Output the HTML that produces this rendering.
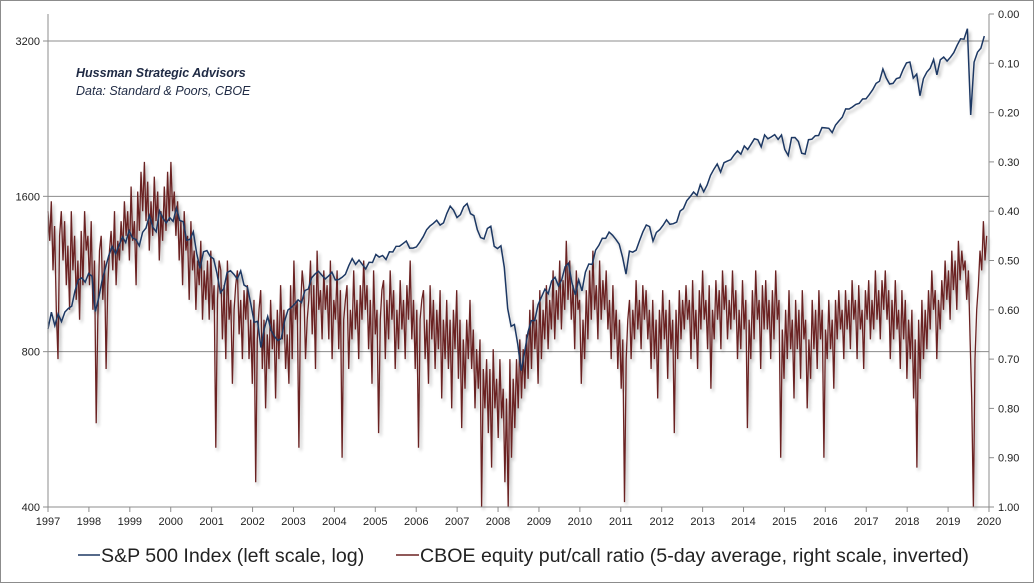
<!DOCTYPE html>
<html><head><meta charset="utf-8"><style>
html,body{margin:0;padding:0;background:#fff;}
#wrap{position:relative;width:1034px;height:583px;overflow:hidden;}
svg text{font-family:"Liberation Sans",sans-serif;}
</style></head><body>
<div id="wrap">
<svg id="chart" width="1034" height="583">
<defs><filter id="sh" x="-5%" y="-5%" width="110%" height="120%"><feGaussianBlur in="SourceAlpha" stdDeviation="1.5"/><feOffset dx="2" dy="3"/><feComponentTransfer><feFuncA type="linear" slope="0.3"/></feComponentTransfer><feMerge><feMergeNode/><feMergeNode in="SourceGraphic"/></feMerge></filter></defs>
<rect x="0.5" y="0.5" width="1033" height="582" fill="#fff" stroke="#8c8c8c"/>
<g id="grid"></g><g id="series"></g><g id="axes"></g>
<text x="76" y="77" font-size="12.5" font-style="italic" font-weight="bold" fill="#1f2a44">Hussman Strategic Advisors</text>
<text x="76" y="95" font-size="12.5" font-style="italic" fill="#1f2a44">Data: Standard &amp; Poors, CBOE</text>
<g>
<line x1="78" y1="555" x2="100" y2="555" stroke="#1f3864" stroke-width="1.5"/>
<text x="101" y="562" font-size="19.6" fill="#222">S&amp;P 500 Index (left scale, log)</text>
<line x1="396" y1="555" x2="419" y2="555" stroke="#6b2222" stroke-width="1.5"/>
<text x="420" y="562" font-size="19.6" fill="#222">CBOE equity put/call ratio (5-day average, right scale, inverted)</text>
</g>
</svg></div>
<script>
const xLabels=[1997,1998,1999,2000,2001,2002,2003,2004,2005,2006,2007,2008,2009,2010,2011,2012,2013,2014,2015,2016,2017,2018,2019,2020];
const leftTicks=[400,800,1600,3200];
const rightTicks=["0.00","0.10","0.20","0.30","0.40","0.50","0.60","0.70","0.80","0.90","1.00"];
const sp500=[885,954,899,947,915,955,970,
980,1049,1102,1112,1091,1134,1121,957,1017,1099,1164,1229,
1280,1238,1286,1335,1302,1373,1329,1320,1283,1363,1389,1469,
1394,1366,1499,1452,1421,1455,1431,1518,1437,1429,1315,1320,
1366,1240,1160,1249,1256,1224,1211,1134,1041,1060,1139,1148,
1130,1107,1147,1077,1067,990,912,916,815,886,936,880,
856,841,848,917,964,975,990,1008,996,1051,1058,1112,
1131,1145,1126,1107,1121,1141,1102,1104,1115,1130,1174,1212,
1181,1204,1181,1157,1192,1191,1234,1220,1229,1207,1249,1248,
1280,1281,1295,1311,1270,1270,1277,1304,1336,1378,1401,1418,
1438,1407,1421,1482,1531,1503,1455,1474,1527,1549,1481,1468,
1379,1331,1323,1386,1400,1280,1267,1283,1165,969,896,903,
826,735,798,873,919,919,987,1021,1057,1036,1096,1115,
1074,1104,1169,1187,1089,1031,1102,1049,1141,1183,1181,1258,
1286,1327,1326,1364,1345,1321,1292,1219,1131,1253,1247,1258,
1312,1366,1408,1398,1310,1362,1379,1407,1441,1412,1416,1426,
1498,1515,1569,1598,1631,1606,1686,1633,1682,1757,1806,1848,
1783,1859,1872,1884,1924,1960,1931,2003,1972,2018,2068,2059,
1995,2105,2068,2086,2107,2063,2104,1972,1920,2079,2080,2044,
1940,1932,2060,2065,2097,2099,2174,2171,2168,2126,2199,2239,
2279,2364,2363,2384,2412,2423,2470,2472,2519,2575,2648,2674,
2824,2714,2641,2648,2705,2718,2816,2902,2914,2712,2760,2507,
2704,2784,2834,2946,2752,2942,2980,2926,2977,3038,3141,3231,
3226,3380,2300,2912,3044,3100,3271];
const putCall=[
0.40,0.46,0.38,0.52,0.43,0.60,0.70,0.45,0.40,0.50,0.42,0.55,0.47,0.60,0.40,0.52,0.45,0.58,0.50,0.62,0.44,0.55,0.40,0.48,
0.45,0.55,0.42,0.60,0.50,0.83,0.62,0.48,0.45,0.58,0.50,0.72,0.55,0.48,0.44,0.52,0.40,0.55,0.46,0.50,0.42,0.48,0.38,0.45,
0.40,0.50,0.35,0.46,0.42,0.55,0.36,0.44,0.32,0.40,0.30,0.42,0.34,0.48,0.38,0.45,0.33,0.42,0.36,0.50,0.40,0.46,0.35,0.44,
0.32,0.42,0.30,0.40,0.36,0.45,0.38,0.50,0.42,0.55,0.40,0.48,0.45,0.58,0.42,0.52,0.48,0.60,0.50,0.55,0.46,0.62,0.52,0.58,
0.50,0.62,0.48,0.60,0.55,0.88,0.58,0.50,0.52,0.66,0.55,0.70,0.50,0.62,0.58,0.75,0.60,0.55,0.52,0.65,0.58,0.70,0.56,0.62,
0.55,0.70,0.62,0.75,0.58,0.95,0.66,0.60,0.56,0.72,0.62,0.80,0.65,0.72,0.58,0.68,0.62,0.78,0.60,0.70,0.55,0.66,0.60,0.72,
0.65,0.75,0.55,0.70,0.50,0.62,0.58,0.88,0.60,0.52,0.56,0.70,0.62,0.58,0.50,0.65,0.55,0.72,0.48,0.60,0.56,0.66,0.52,0.60,
0.55,0.66,0.50,0.70,0.58,0.62,0.52,0.68,0.56,0.90,0.62,0.58,0.55,0.72,0.60,0.66,0.52,0.64,0.58,0.70,0.55,0.62,0.50,0.60,
0.55,0.68,0.58,0.75,0.52,0.65,0.60,0.85,0.62,0.56,0.54,0.70,0.58,0.66,0.52,0.62,0.56,0.72,0.60,0.68,0.54,0.64,0.58,0.70,
0.55,0.62,0.50,0.66,0.58,0.72,0.60,0.88,0.62,0.58,0.56,0.70,0.62,0.75,0.55,0.66,0.58,0.72,0.60,0.68,0.56,0.78,0.62,0.70,
0.58,0.72,0.62,0.80,0.60,0.68,0.56,0.74,0.62,0.84,0.66,0.76,0.62,0.70,0.58,0.72,0.64,0.80,0.68,0.76,0.66,1.00,0.72,0.80,
0.70,0.85,0.72,0.92,0.68,0.80,0.74,0.86,0.70,0.82,0.76,0.95,0.78,1.00,0.70,0.90,0.74,0.84,0.70,0.80,0.66,0.78,0.68,0.76,
0.65,0.74,0.60,0.72,0.58,0.68,0.62,0.75,0.56,0.70,0.60,0.66,0.55,0.68,0.58,0.64,0.52,0.66,0.56,0.62,0.50,0.64,0.54,0.60,
0.46,0.58,0.50,0.62,0.55,0.68,0.52,0.60,0.58,0.75,0.62,0.70,0.56,0.66,0.52,0.62,0.48,0.60,0.55,0.66,0.50,0.62,0.54,0.60,
0.52,0.64,0.58,0.70,0.55,0.66,0.60,0.72,0.62,0.76,0.66,0.99,0.70,0.62,0.58,0.70,0.60,0.66,0.54,0.64,0.58,0.68,0.55,0.62,
0.56,0.66,0.60,0.72,0.58,0.70,0.62,0.78,0.60,0.68,0.56,0.66,0.60,0.74,0.58,0.68,0.62,0.85,0.60,0.70,0.56,0.66,0.58,0.64,
0.55,0.62,0.58,0.70,0.54,0.66,0.60,0.72,0.56,0.64,0.52,0.62,0.58,0.68,0.55,0.76,0.60,0.66,0.54,0.62,0.56,0.68,0.52,0.60,
0.55,0.66,0.58,0.64,0.52,0.62,0.56,0.70,0.60,0.68,0.54,0.64,0.58,0.84,0.62,0.70,0.56,0.66,0.52,0.62,0.58,0.72,0.55,0.64,
0.54,0.64,0.58,0.70,0.56,0.66,0.52,0.62,0.58,0.90,0.64,0.74,0.60,0.70,0.56,0.68,0.62,0.78,0.58,0.68,0.60,0.74,0.56,0.66,
0.62,0.80,0.66,0.74,0.58,0.68,0.60,0.72,0.56,0.66,0.60,0.90,0.64,0.70,0.58,0.68,0.62,0.76,0.58,0.66,0.56,0.64,0.60,0.70,
0.56,0.64,0.58,0.68,0.54,0.62,0.58,0.70,0.55,0.64,0.60,0.72,0.56,0.62,0.54,0.66,0.58,0.64,0.52,0.62,0.56,0.66,0.54,0.60,
0.52,0.62,0.56,0.70,0.58,0.66,0.54,0.64,0.60,0.72,0.56,0.66,0.58,0.74,0.62,0.70,0.60,0.78,0.66,0.92,0.62,0.74,0.58,0.70,
0.60,0.68,0.56,0.64,0.52,0.60,0.56,0.70,0.58,0.64,0.54,0.60,0.50,0.58,0.52,0.62,0.48,0.56,0.50,0.60,0.46,0.54,0.48,0.52,
0.50,0.58,0.52,0.66,0.78,1.00,0.70,0.60,0.55,0.48,0.52,0.42,0.50,0.45];
const spStart=1997.4,spSpan=23.2,pcStart=1997.0,pcSpan=23.6;
const x0=48,x1=989,yTop=14,yBot=507;
function xSp(t){return x0+(t-spStart)/spSpan*(x1-x0);}
function xPc(t){return x0+(t-pcStart)/pcSpan*(x1-x0);}
function yL(v){return yBot-Math.log2(v/400)*((yBot-41)/3);}
function yR(v){return yTop+v*(yBot-yTop);}
const NS="http://www.w3.org/2000/svg";
function mk(tag,attrs,parent){const e=document.createElementNS(NS,tag);for(const k in attrs)e.setAttribute(k,attrs[k]);parent.appendChild(e);return e;}
const grid=document.getElementById('grid'),axes=document.getElementById('axes'),series=document.getElementById('series');
leftTicks.forEach(v=>{const y=yL(v);
 const g=mk('line',{x1:x0,x2:x1,y1:y,y2:y,stroke:'#8c8c8c','stroke-width':1},grid);
 
 
 mk('line',{x1:x0-5,x2:x0,y1:y,y2:y,stroke:'#8c8c8c'},axes);
 const t=mk('text',{x:x0-8,y:y+4,'text-anchor':'end','font-size':11,fill:'#222'},axes);t.textContent=v;
 
 
});
rightTicks.forEach((s,i)=>{const y=yR(parseFloat(s));
 mk('line',{x1:x1,x2:x1+5,y1:y,y2:y,stroke:'#8c8c8c'},axes);
 const t=mk('text',{x:x1+9,y:y+4,'font-size':11,fill:'#222'},axes);t.textContent=s;
 
 
});
const al=mk('line',{x1:x0,x2:x0,y1:yTop,y2:yBot,stroke:'#8c8c8c'},axes);


const ar=mk('line',{x1:x1,x2:x1,y1:yTop,y2:yBot,stroke:'#8c8c8c'},axes);


const ab=mk('line',{x1:x0,x2:x1,y1:yBot,y2:yBot,stroke:'#8c8c8c'},axes);


const step=(x1-x0)/(xLabels.length-1);
xLabels.forEach((yr,i)=>{const x=x0+i*step;
 mk('line',{x1:x,x2:x,y1:yBot,y2:yBot+5,stroke:'#8c8c8c'},axes);
 const t=mk('text',{x:x,y:yBot+18,'text-anchor':'middle','font-size':11,fill:'#222'},axes);t.textContent=yr;
 
 
});
let d='';putCall.forEach((v,i)=>{d+=(i?'L':'M')+xPc(pcStart+i/24).toFixed(1)+','+yR(v).toFixed(1);});
const pc=mk('path',{d:d,fill:'none',stroke:'#6b2222','stroke-width':1.3,filter:'url(#sh)'},series);


d='';sp500.forEach((v,i)=>{d+=(i?'L':'M')+xSp(spStart+i/12).toFixed(1)+','+yL(v).toFixed(1);});
const sp=mk('path',{d:d,fill:'none',stroke:'#1f3864','stroke-width':1.5,filter:'url(#sh)'},series);


</script>
</body></html>
